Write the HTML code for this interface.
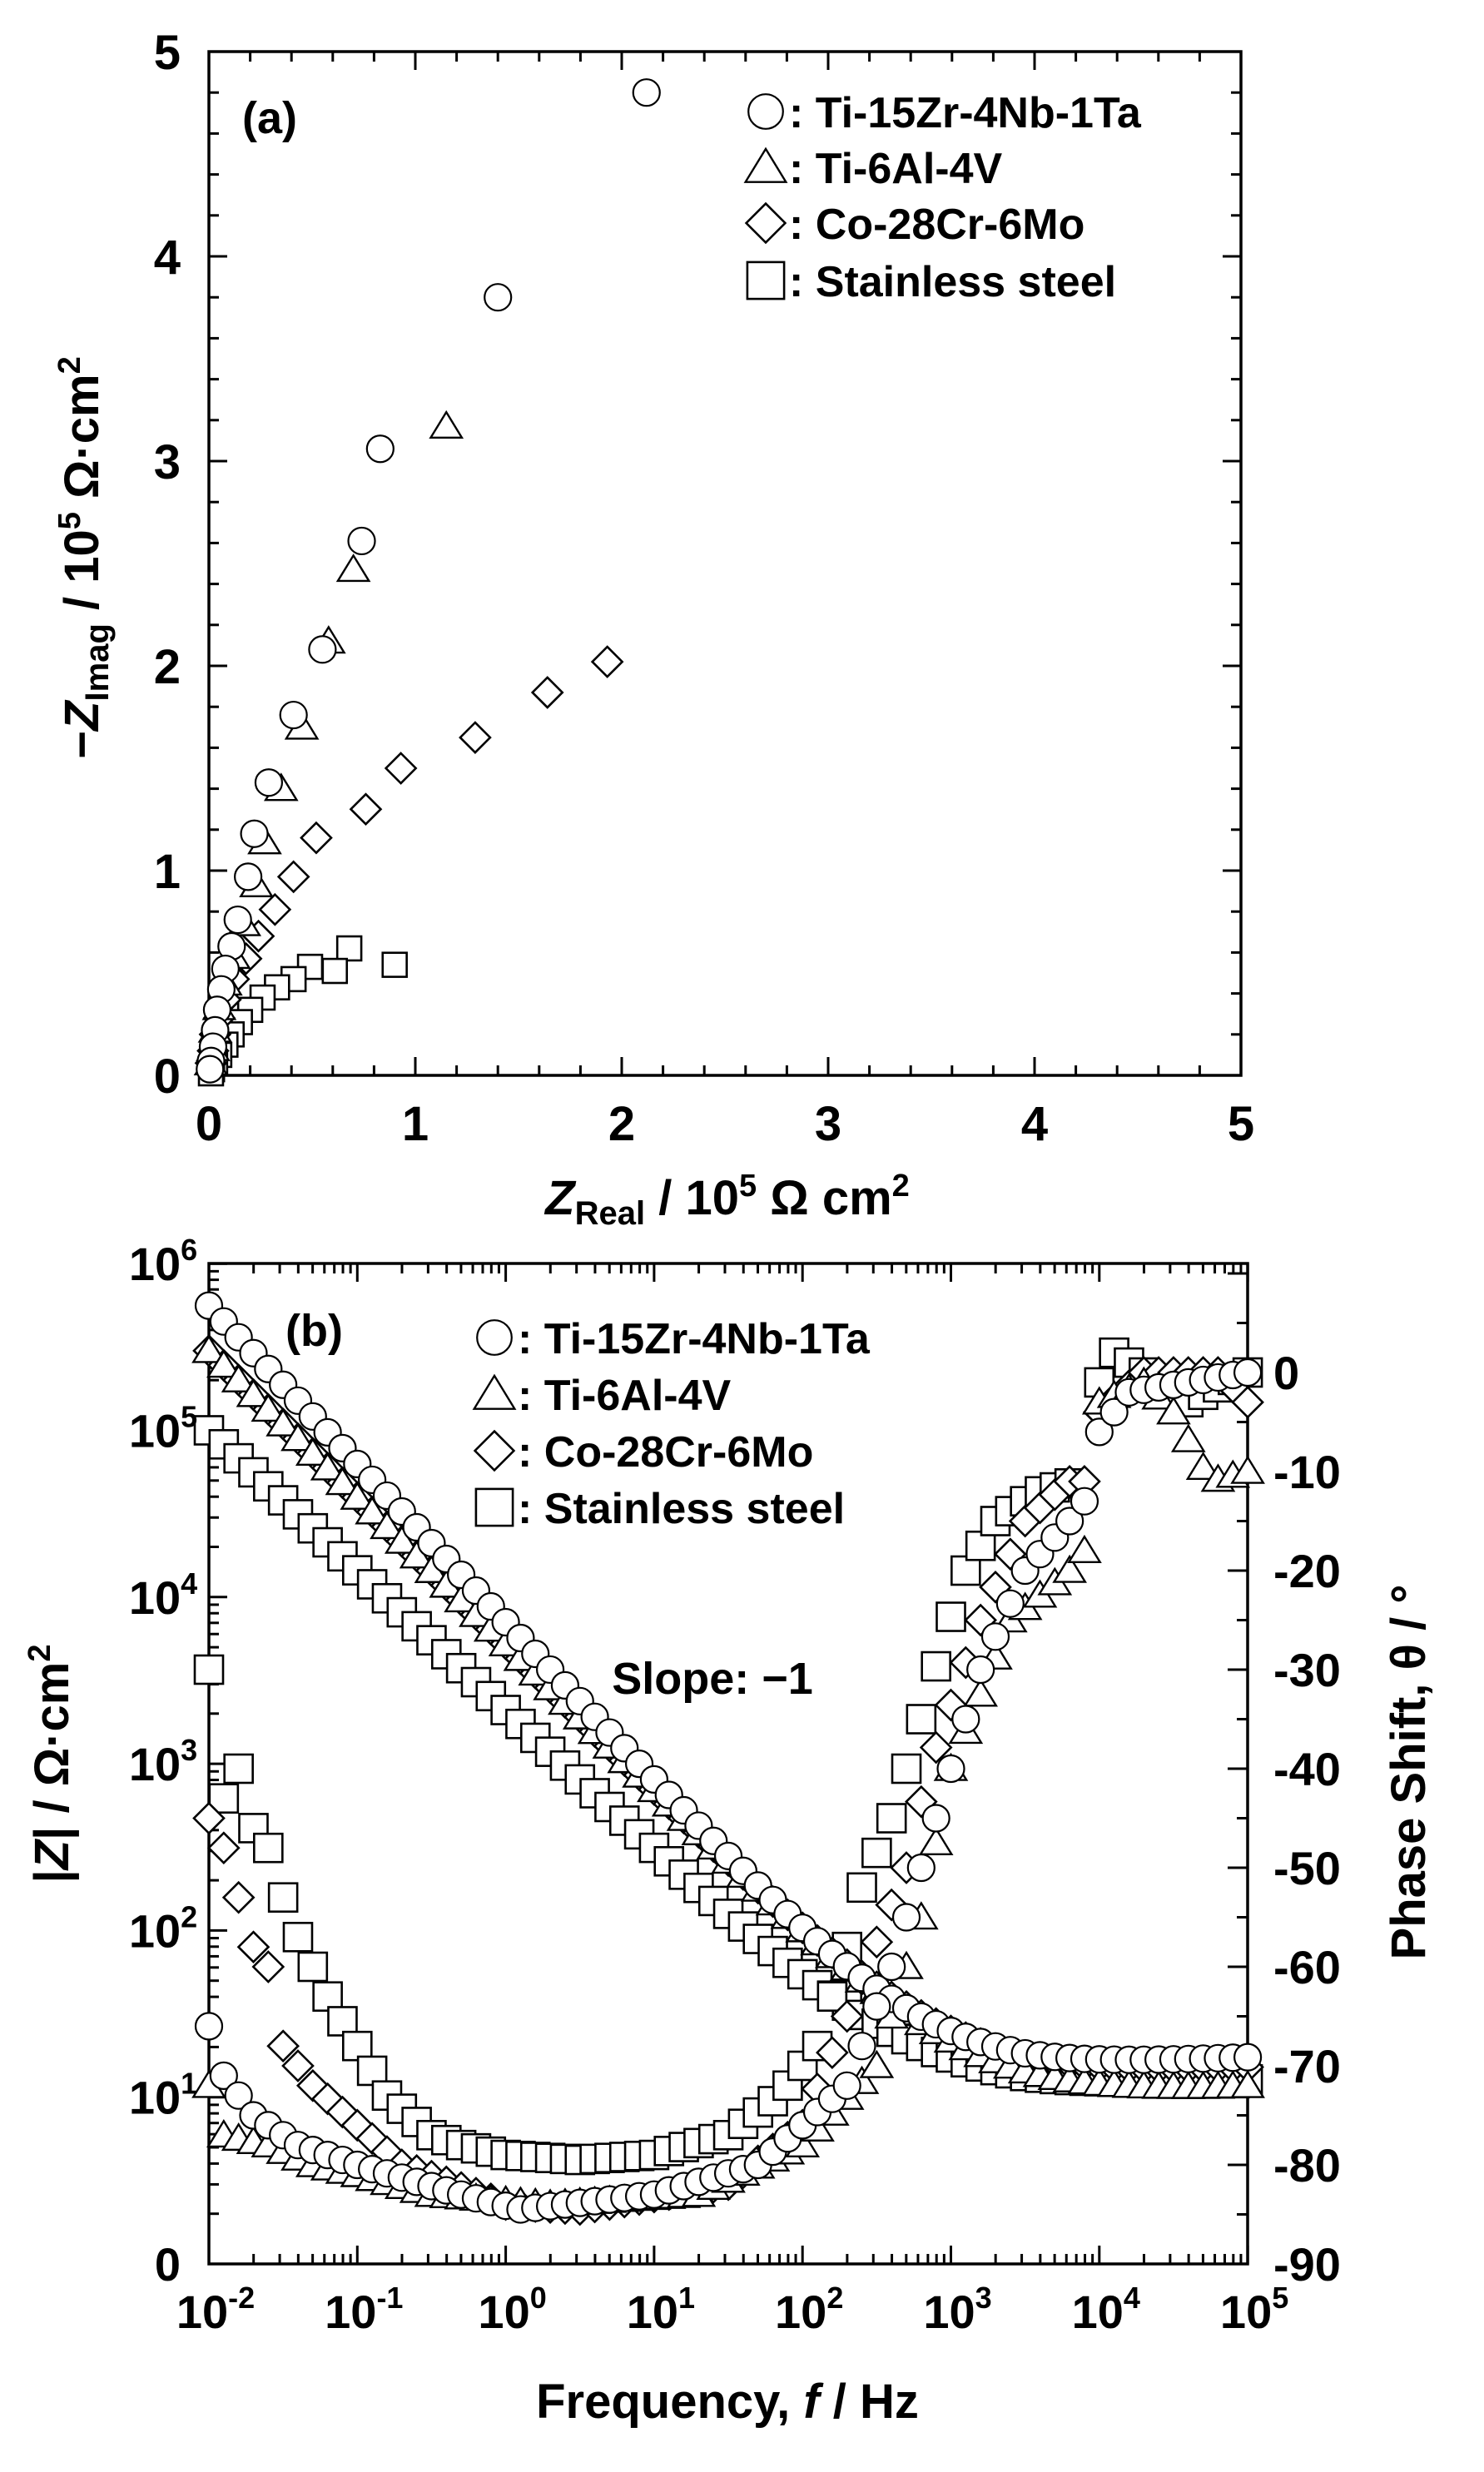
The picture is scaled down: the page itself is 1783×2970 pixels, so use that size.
<!DOCTYPE html>
<html><head><meta charset="utf-8"><style>
html,body{margin:0;padding:0;background:#fff;}
svg{display:block;}
text{font-family:"Liberation Sans",Arial,sans-serif;font-weight:bold;fill:#000;}
</style></head><body>
<svg id="s" xmlns="http://www.w3.org/2000/svg" width="1783" height="2970" viewBox="0 0 1783 2970">
<g id="g" fill="none" stroke="#000" stroke-width="3"></g>
<g id="t"></g>
</svg>
<script>
var NS="http://www.w3.org/2000/svg";
var G=document.getElementById('g'),T=document.getElementById('t');
function el(p,n,a){var e=document.createElementNS(NS,n);for(var k in a)e.setAttribute(k,a[k]);p.appendChild(e);return e;}
function line(x1,y1,x2,y2,w){el(G,'line',{x1:x1,y1:y1,x2:x2,y2:y2,'stroke-width':w||3});}
function txt(x,y,s,fs,anchor,extra){var e=el(T,'text',Object.assign({x:x,y:y,'font-size':fs,'text-anchor':anchor||'start'},extra||{}));e.innerHTML=s;return e;}
function mk(type,x,y,s){s=s||1;
 if(type=='c')el(G,'circle',{cx:x,cy:y,r:16*s,'stroke-width':2.2,fill:'#fff'});
 else if(type=='s')el(G,'rect',{x:x-17*s,y:y-17*s,width:34*s,height:34*s,'stroke-width':2.6,fill:'#fff'});
 else if(type=='d'){var h=18*s;el(G,'polygon',{points:(x)+','+(y-h)+' '+(x+h)+','+y+' '+x+','+(y+h)+' '+(x-h)+','+y,'stroke-width':2.6,fill:'#fff'});}
 else if(type=='t'){var h=17*s;el(G,'polygon',{points:x+','+(y-h)+' '+(x+h*1.1)+','+(y+h*0.8)+' '+(x-h*1.1)+','+(y+h*0.8),'stroke-width':2.4,fill:'#fff'});}
}
/* ---------- Plot (a) ---------- */
var AL=251,AR=1491,AT=62,AB=1292;
function ax(v){return AL+v*248;} function ay(v){return AB-v*246;}
el(G,'rect',{x:AL,y:AT,width:AR-AL,height:AB-AT,'stroke-width':3.5});
for(var i=0;i<=25;i++){var v=i*0.2,L=(i%5==0)?22:12;
 line(ax(v),AB,ax(v),AB-L);line(ax(v),AT,ax(v),AT+L);
 line(AL,ay(v),AL+L,ay(v));line(AR,ay(v),AR-L,ay(v));}
for(var i=0;i<=5;i++){txt(ax(i),1370,''+i,58,'middle');txt(217,ay(i)+21,''+i,58,'end');}
var Ac=[[2.12,4.8],[1.4,3.8],[0.83,3.06],[0.74,2.61],[0.55,2.08],[0.41,1.76],[0.29,1.43],[0.22,1.18],[0.19,0.97],[0.14,0.76],[0.11,0.63],[0.08,0.52],[0.06,0.42],[0.04,0.32],[0.03,0.22],[0.02,0.14],[0.01,0.07],[0.005,0.03]];
var At=[[1.15,3.17],[0.7,2.47],[0.58,2.12],[0.45,1.7],[0.35,1.4],[0.27,1.14],[0.23,0.93],[0.17,0.74],[0.12,0.58],[0.08,0.45],[0.05,0.33],[0.03,0.22],[0.02,0.13],[0.01,0.06]];
var Ad=[[1.93,2.02],[1.64,1.87],[1.29,1.65],[0.93,1.5],[0.76,1.3],[0.52,1.16],[0.41,0.97],[0.32,0.81],[0.24,0.68],[0.18,0.57],[0.12,0.47],[0.08,0.37],[0.05,0.28],[0.03,0.2],[0.02,0.12],[0.01,0.06]];
var As=[[0.9,0.54],[0.68,0.62],[0.61,0.51],[0.49,0.53],[0.41,0.47],[0.33,0.43],[0.26,0.38],[0.2,0.32],[0.15,0.26],[0.11,0.2],[0.08,0.15],[0.05,0.1],[0.03,0.06],[0.015,0.03],[0.01,0.01]];
As.forEach(function(p){mk('s',ax(p[0]),ay(p[1]),0.85);});
Ad.forEach(function(p){mk('d',ax(p[0]),ay(p[1]));});
At.forEach(function(p){mk('t',ax(p[0]),ay(p[1]));});
Ac.forEach(function(p){mk('c',ax(p[0]),ay(p[1]));});
txt(291,160,'(a)',54);
var la=[['c','Ti-15Zr-4Nb-1Ta'],['t','Ti-6Al-4V'],['d','Co-28Cr-6Mo'],['s','Stainless steel']];
var lay=[134,201,268,337];
la.forEach(function(r,i){mk(r[0],920,lay[i],1.3);txt(948,lay[i]+19,': '+r[1],52);});
txt(874,1459,'<tspan font-style="italic">Z</tspan><tspan font-size="40" dy="12">Real</tspan><tspan dy="-12"> / 10</tspan><tspan font-size="38" dy="-22">5</tspan><tspan dy="22"> Ω cm</tspan><tspan font-size="38" dy="-22">2</tspan>',58,'middle');
txt(0,0,'−<tspan font-style="italic">Z</tspan><tspan font-size="40" dy="12">Imag</tspan><tspan dy="-12">  / 10</tspan><tspan font-size="38" dy="-22">5</tspan><tspan dy="22"> Ω·cm</tspan><tspan font-size="38" dy="-22">2</tspan>',58,'middle',{transform:'translate(118,670) rotate(-90)'});
/* ---------- Plot (b) ---------- */
var BL=251,BR=1499,BT=1518,BB=2720;
function bx(l){return BL+(l+2)*178.3;} function bz(l){return BB-l*200.3;} function bp(d){return 1649+(-d)*11.9;}
el(G,'rect',{x:BL,y:BT,width:BR-BL,height:BB-BT,'stroke-width':3.5});
for(var d=-2;d<=5;d++){line(bx(d),BB,bx(d),BB-22);line(bx(d),BT,bx(d),BT+22);
 if(d<5)for(var m=2;m<=9;m++){var x=bx(d+Math.log10(m));line(x,BB,x,BB-12);line(x,BT,x,BT+12);}}
for(var d=0;d<=6;d++){line(BL,bz(d),BL+22,bz(d));
 if(d<6)for(var m=2;m<=9;m++){var y=bz(d+Math.log10(m));line(BL,y,BL+12,y);}}
for(var p=-90;p<=10;p+=5){var L=(p%10==0)?24:13;line(BR,bp(p),BR-L,bp(p));}
var xl=['10<tspan font-size="36" dy="-24">-2</tspan>','10<tspan font-size="36" dy="-24">-1</tspan>','10<tspan font-size="36" dy="-24">0</tspan>','10<tspan font-size="36" dy="-24">1</tspan>','10<tspan font-size="36" dy="-24">2</tspan>','10<tspan font-size="36" dy="-24">3</tspan>','10<tspan font-size="36" dy="-24">4</tspan>','10<tspan font-size="36" dy="-24">5</tspan>'];
xl.forEach(function(s,i){txt(bx(i-2)+8,2797,s,56,'middle');});
for(var d=1;d<=6;d++)txt(196,bz(d)+20,'10<tspan font-size="36" dy="-24">'+d+'</tspan>',56,'middle');
txt(217,bz(0)+20,'0',56,'end');
for(var p=0;p>=-90;p-=10)txt(1530,bp(p)+20,''+p,56,'start');
txt(343,1617,'(b)',54);
var lby=[1607,1675,1743,1811];
la.forEach(function(r,i){mk(r[0],594,lby[i],1.3);txt(622,lby[i]+19,': '+r[1],52);});
txt(856,2035,'Slope: −1',54,'middle');
txt(874,2905,'Frequency, <tspan font-style="italic">f</tspan> / Hz',58,'middle');
txt(0,0,'|<tspan font-style="italic">Z</tspan>| / Ω·cm<tspan font-size="38" dy="-22">2</tspan>',58,'middle',{transform:'translate(82,2119) rotate(-90)'});
txt(0,0,'Phase Shift, θ / °',58,'middle',{transform:'translate(1712,2129) rotate(-90)'});
function interp(k,l){if(l<=k[0][0])return k[0][1];for(var i=1;i<k.length;i++){if(l<=k[i][0]){var a=k[i-1],b=k[i];return a[1]+(b[1]-a[1])*(l-a[0])/(b[0]-a[0]);}}return k[k.length-1][1];}
var F=[];for(var l=-2;l<3.95;l+=0.1)F.push(+l.toFixed(2));var F2=[];for(var l=4;l<5.01;l+=0.1)F2.push(+l.toFixed(2));
var ser={
 c:{R:15,C:7050,e:0.95,ph:[[-2,-66],[-1.9,-71],[-1.7,-75],[-1.4,-78],[-1,-80],[-0.3,-83],[0.1,-84.5],[1,-83],[1.7,-80],[2.3,-72],[2.6,-60],[2.9,-45],[3.2,-30],[3.5,-20],[3.8,-15],[3.95,-12]],ph2:[[4,-6],[4.2,-2],[5,0]]},
 t:{R:10,C:5220,e:0.88,ph:[[-2,-72],[-1.9,-77],[-1.6,-78],[-1.3,-80],[-1,-81],[-0.5,-83],[0.3,-84],[1.3,-83],[2,-78],[2.5,-70],[2.8,-55],[3,-40],[3.4,-25],[3.8,-20],[3.95,-17]],ph2:[[4,-3],[4.3,-1],[4.5,-4],[4.75,-11],[5,-10]]},
 d:{R:13,C:5220,e:0.88,ph:[[-2,-45],[-1.9,-48],[-1.8,-53],[-1.7,-58],[-1.6,-60],[-1.5,-68],[-1.3,-72],[-0.7,-80],[0,-84],[0.5,-84.5],[1.5,-82],[2,-76],[2.3,-65],[2.7,-50],[2.85,-40],[3.2,-25],[3.5,-15],[3.8,-11]],ph2:[[4,-4],[4.3,0],[4.8,0],[5,-3]]},
 s:{R:11,C:2090,e:0.84,ph:[[-2,-30],[-1.9,-43],[-1.8,-40],[-1.7,-46],[-1.6,-48],[-1.5,-53],[-1.4,-57],[-1.3,-60],[-1.2,-63],[-1,-68],[-0.8,-73],[-0.5,-77],[-0.3,-78],[0,-79],[0.5,-79.5],[1,-79],[1.5,-77],[1.85,-73],[2.1,-68],[2.3,-58],[2.4,-52],[2.6,-45],[2.8,-35],[2.95,-27],[3.1,-20],[3.3,-15],[3.6,-12],[3.85,-11]],ph2:[[4,-1],[4.1,2],[4.3,0],[4.6,-3],[5,0]]}};
['s','d','t','c'].forEach(function(k){var S=ser[k],sz=1;
 F.concat(F2).forEach(function(l){var f=Math.pow(10,l),Z=S.R*(1+0.15*Math.max(0,l-3.5)/1.5)+S.C*Math.pow(f,-S.e);mk(k,bx(l),bz(Math.log10(Z)),sz);});
 F.forEach(function(l){if(k=='s'&&l>3.85)return;mk(k,bx(l),bp(interp(S.ph,l)),sz);});
 F2.forEach(function(l){mk(k,bx(l),bp(interp(S.ph2,l)),sz);});
});
</script>
</body></html>
